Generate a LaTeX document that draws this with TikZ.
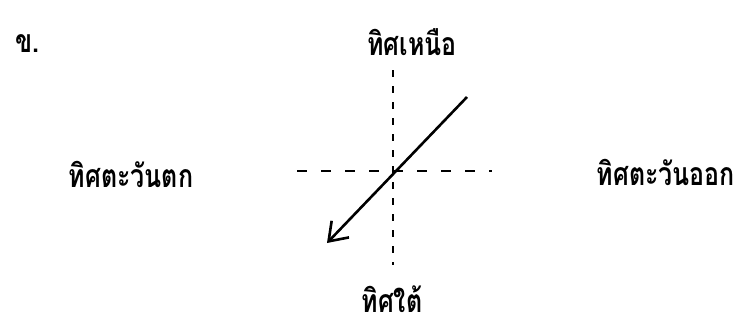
\documentclass[tikz,border=0pt]{standalone}
\usepackage{graphicx}
\usepackage{fontspec}
\newfontfamily\thaifont[Script=Thai]{Loma}
\usetikzlibrary{arrows.meta}
\newcommand{\thtext}[1]{\scalebox{0.78}[1]{\thaifont\bfseries\fontsize{32}{36}\selectfont #1}}
\tikzset{
  lbl/.style={inner sep=0pt, anchor=base},
  axisline/.style={line width=1.8pt, dash pattern=on 10pt off 14pt},
  vaxis/.style={line width=1.6pt, dash pattern=on 7pt off 9pt},
  dirarrow/.style={line width=2.6pt, -{Straight Barb[length=17pt,width=24pt,line width=2.6pt]}}
}
\begin{document}
\begin{tikzpicture}[x=1pt,y=1pt]
\useasboundingbox (0,0) rectangle (747,325);
\node[lbl] (kho) at (27,273) {\thtext{ข.}};
\node[lbl] (north) at (412,270) {\thtext{ทิศเหนือ}};
\node[lbl] (south) at (392,13) {\thtext{ทิศใต้}};
\node[lbl] (west) at (131,138) {\thtext{ทิศตะวันตก}};
\node[lbl] (east) at (666,140) {\thtext{ทิศตะวันออก}};
\coordinate (ntop) at (393,255);
\coordinate (sbot) at (393,60);
\coordinate (wend) at (297,154);
\coordinate (eend) at (492,154);
\coordinate (astart) at (467,228);
\coordinate (aend) at (327,82);
\draw[vaxis] (ntop) -- (sbot);
\draw[axisline] (wend) -- (eend);
\draw[dirarrow] (astart) -- (aend);
\end{tikzpicture}
\end{document}
